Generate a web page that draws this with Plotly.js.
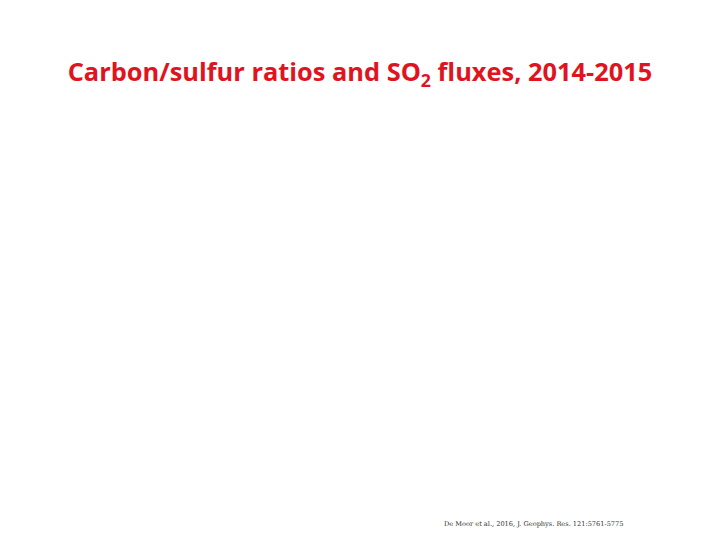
<!DOCTYPE html>
<html>
<head>
<meta charset="utf-8">
<script src="https://cdn.plot.ly/plotly-3.0.1.min.js"></script>
<style>
  html, body { margin: 0; padding: 0; background: #ffffff; }
  #chart { width: 720px; height: 540px; }
</style>
</head>
<body>
<div id="chart"></div>
<script>
// slide content: the figure itself is blank, only the heading and the reference remain
var titleText = '<b>Carbon/sulfur ratios and SO<sub>2</sub> fluxes, 2014-2015</b>'
var sourceText = 'De Moor et al., 2016, J. Geophys. Res. 121:5761-5775'

var xCats = []
var yVals = []

var traces = [{
    x: xCats,
    y: yVals,
    type: 'scatter',
    mode: 'lines',
    hoverinfo: 'skip',
    showlegend: false,
}]

var layout = {
    width: 720,
    height: 540,
    showlegend: false,
    paper_bgcolor: '#ffffff',
    plot_bgcolor: '#ffffff',
    margin: {l: 0, r: 0, t: 0, b: 0},
    title: {
        text: titleText,
        font: {family: 'Open Sans, Liberation Sans, sans-serif', size: 25.4, color: '#e0141e'},
        x: 0.5,
        xanchor: 'center',
        y: 0.866,
        yanchor: 'middle',
    },
    xaxis: {visible: false, showgrid: false, zeroline: false, range: [0, 1], fixedrange: true},
    yaxis: {visible: false, showgrid: false, zeroline: false, range: [0, 1], fixedrange: true},
    annotations: [{
        text: sourceText,
        xref: 'paper',
        yref: 'paper',
        x: 0.614,
        y: 0.03,
        xanchor: 'left',
        yanchor: 'middle',
        showarrow: false,
        font: {family: 'DejaVu Serif, serif', size: 6.6, color: '#333333'},
    }],
}

Plotly.newPlot('chart', traces, layout, {displayModeBar: false, staticPlot: true})
</script>
</body>
</html>
